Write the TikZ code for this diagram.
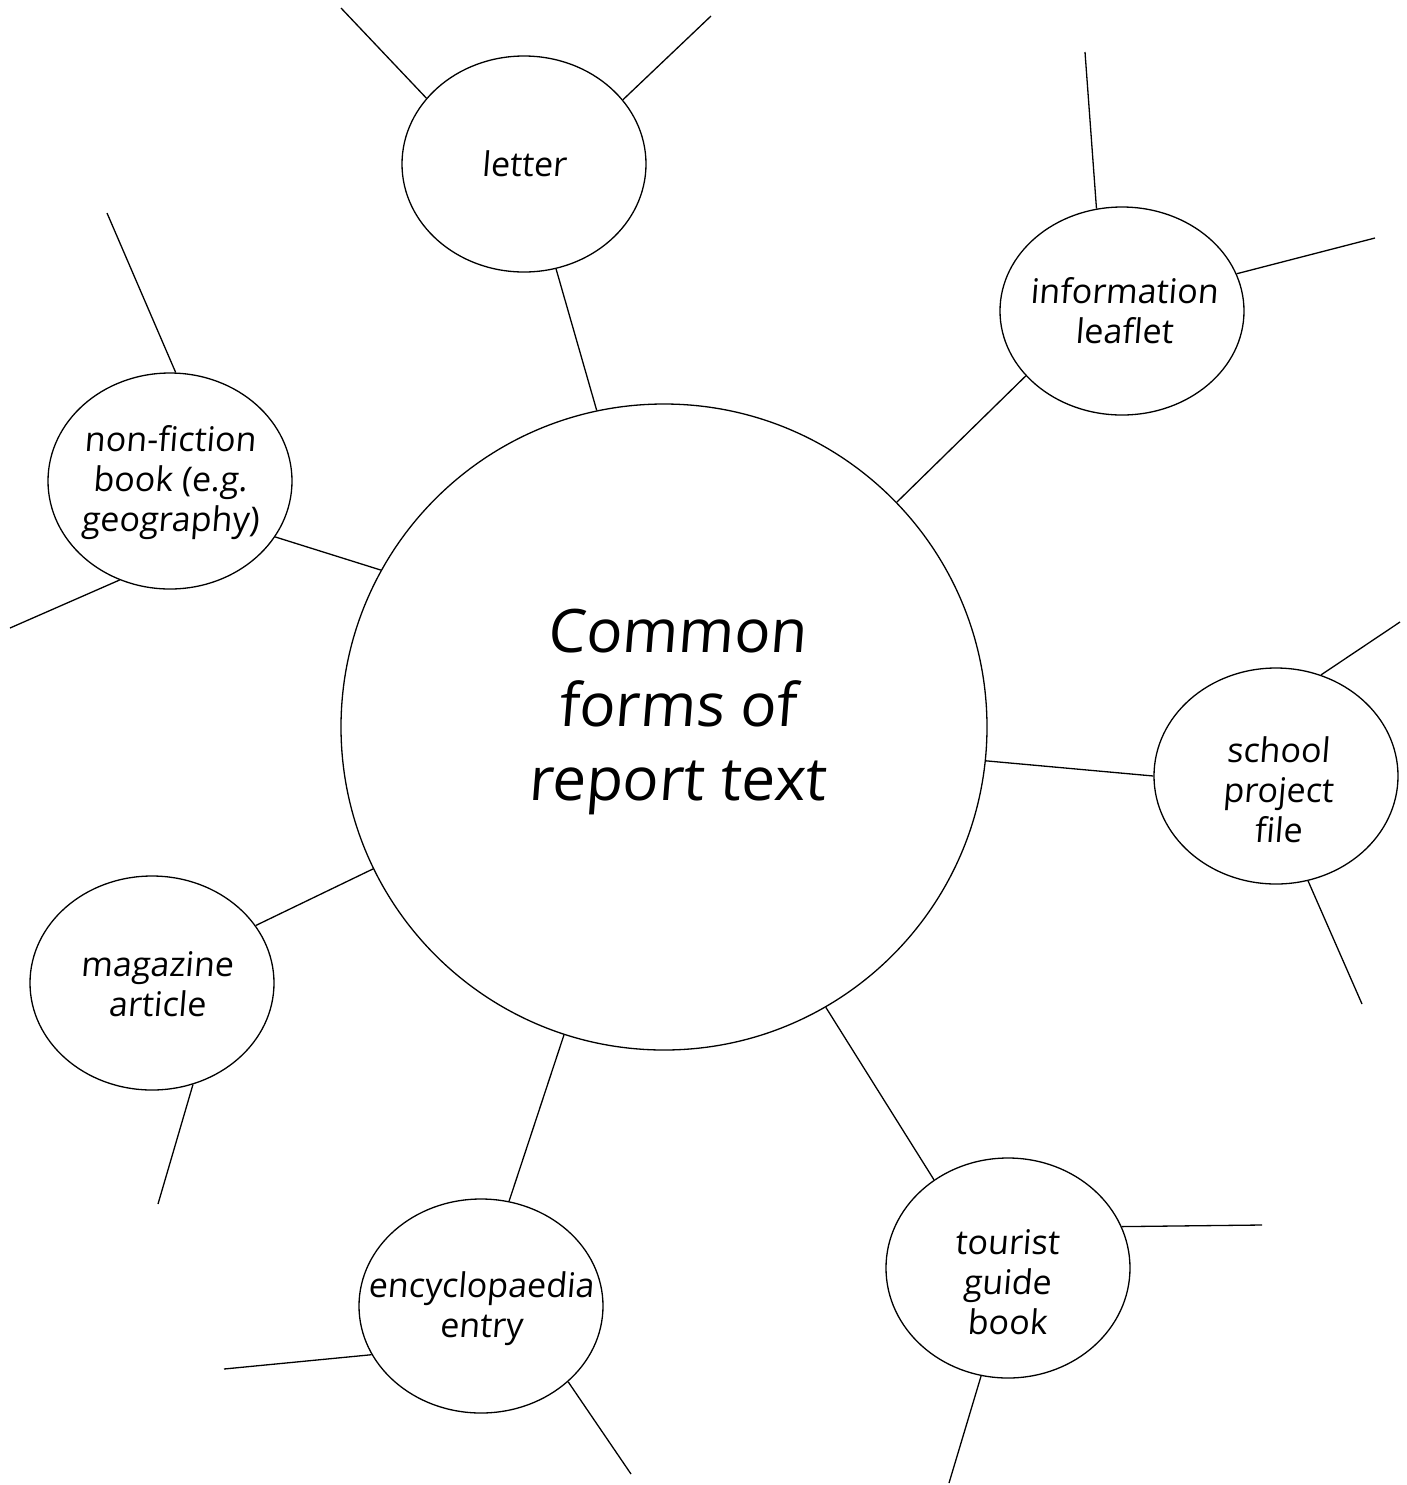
\documentclass[tikz,border=0pt]{standalone}
\usepackage{fontspec}
\setmainfont{Open Sans}[FakeSlant=0.08]
\usetikzlibrary{shapes.geometric}
\begin{document}
\begin{tikzpicture}[x=0.5pt,y=-0.5pt, line width=0.65pt,
  bubble/.style={draw, ellipse, inner sep=0pt, minimum width=122pt, minimum height=108pt},
  hub/.style={draw, circle, inner sep=0pt, minimum size=323pt},
  lbl/.style={align=center, font=\fontsize{17}{20}\selectfont, inner sep=0pt},
  big/.style={align=center, font=\fontsize{30}{37}\selectfont, inner sep=0pt}]
\useasboundingbox (0,0) rectangle (1407,1485);

% hub
\node[hub] (main) at (664,727) {};
\node[big] (maint) at (677,712) {Common\\forms of\\report text};

% bubbles
\node[bubble] (letter) at (524,164) {};
\node[lbl] (lettert) at (524,164) {letter};

\node[bubble, minimum height=104pt] (info) at (1122,311) {};
\node[lbl] (infot) at (1124,311) {information\\leaflet};

\node[bubble] (nonfic) at (170,481) {};
\node[lbl] (nonfict) at (170,483) {non-fiction\\book (e.g.\\geography)};

\node[bubble] (school) at (1276,776) {};
\node[lbl] (schoolt) at (1278,790) {school\\project\\file};

\node[bubble, minimum height=107pt] (mag) at (152,983) {};
\node[lbl] (magt) at (157,984) {magazine\\article};

\node[bubble, minimum height=107pt] (ency) at (481,1306) {};
\node[lbl] (encyt) at (481,1309) {encyclopaedia\\entry};

\node[bubble, minimum height=110pt] (tour) at (1008,1268) {};
\node[lbl] (tourt) at (1007,1282) {tourist\\guide\\book};

% free ends
\coordinate (l1) at (341,8);
\coordinate (l2) at (711,16);
\coordinate (i1) at (1085,52);
\coordinate (i2) at (1375,238);
\coordinate (n1) at (107,213);
\coordinate (n2) at (10,628);
\coordinate (s1) at (1400,622);
\coordinate (s2) at (1362,1004);
\coordinate (m1) at (158,1204);
\coordinate (e1) at (224,1369);
\coordinate (e2) at (631,1474);
\coordinate (t1) at (1262,1225);
\coordinate (t2) at (949,1483);

% connectors to hub
\draw (letter.-73.7) -- (main.102.2);
\draw (info.214.8) -- (main.44.75);
\draw (nonfic.-28.7) -- (main.151.8);
\draw (school.180) -- (main.-6.9);
\draw (mag.29.7) -- (main.206.6);
\draw (ency.75.6) -- (main.252);
\draw (tour.130.8) -- (main.-60.4);

% free spokes
\draw (letter.146.3) -- (l1);
\draw (letter.33.4) -- (l2);
\draw (info.104.9) -- (i1);
\draw (info.18.3) -- (i2);
\draw (nonfic.87.4) -- (n1);
\draw (nonfic.243.2) -- (n2);
\draw (school.66.8) -- (s1);
\draw (school.-73.5) -- (s2);
\draw (mag.-68.6) -- (m1);
\draw (ency.204.6) -- (e1);
\draw (ency.-41.4) -- (e2);
\draw (tour.20.7) -- (t1);
\draw (tour.-104.3) -- (t2);
\end{tikzpicture}
\end{document}
